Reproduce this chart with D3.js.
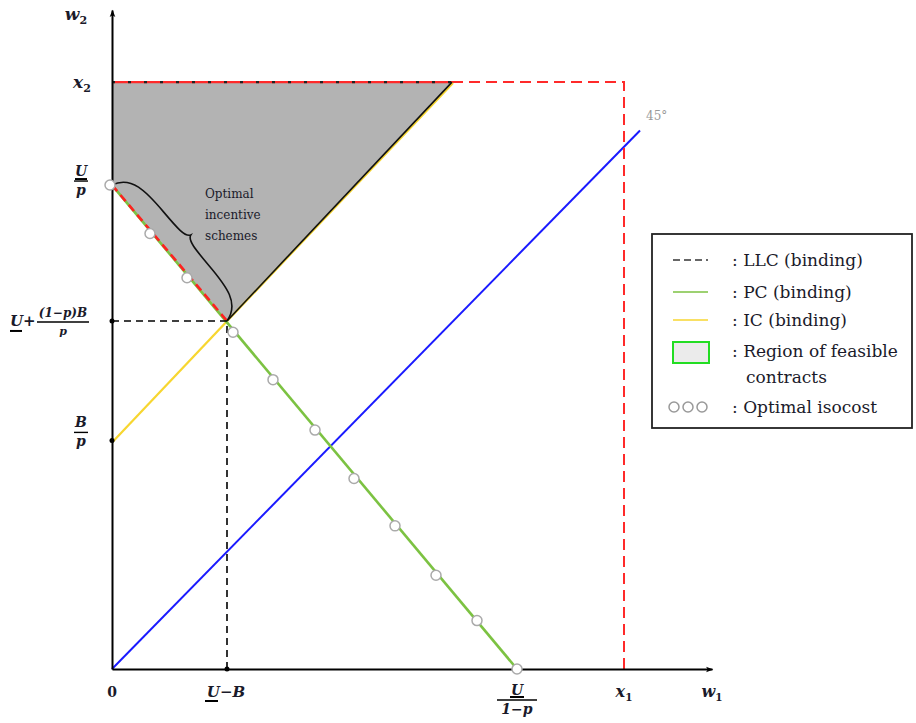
<!DOCTYPE html>
<html lang="en">
<head>
<meta charset="UTF-8">
<title>Optimal incentive schemes</title>
<script src="https://cdn.jsdelivr.net/npm/d3@7/dist/d3.min.js"></script>
<style>
  body { margin: 0; background: #fff; }
  svg { display: block; }
  .serif { font-family: "DejaVu Serif", "Liberation Serif", serif; }
</style>
</head>
<body>
<svg width="916" height="723"></svg>
<script>
// key values (arbitrary units)
const xTicks = [
  {key: "zero", v: 0},
  {key: "UB", v: 1.15},
  {key: "U1p", v: 4.05},
  {key: "x1", v: 5.12}
];
const yTicks = [
  {key: "Bp", v: 2.22},
  {key: "kink", v: 3.38},
  {key: "Up", v: 4.70},
  {key: "x2", v: 5.70}
];
// lines: [w1, w2] points
const pcLine = [[0, 4.70], [4.05, 0]];
const icLine = [[0, 2.22], [3.40, 5.70]];
const line45 = [[0, 0], [5.28, 5.23]];
const redBox = [[0, 5.70], [5.12, 5.70], [5.12, 0]];
const llcLine = [[0, 3.38], [1.15, 3.38], [1.15, 0]];
const region = [[0, 5.70], [3.40, 5.70], [1.15, 3.38], [0, 4.70]];
// optimal isocost circles
const isoX = [0, 0.38, 0.75, 1.21, 1.61, 2.03, 2.42, 2.83, 3.24, 3.65, 4.05];
const isoY = [4.70, 4.23, 3.80, 3.27, 2.81, 2.32, 1.85, 1.39, 0.91, 0.47, 0];
const dots = [[0, 3.38], [1.15, 0], [0, 2.22]];

const svg = d3.select("svg");
const x = d3.scaleLinear().domain([0, 6]).range([112, 712]);
const y = d3.scaleLinear().domain([0, 6.4]).range([669, 10]);
const line = d3.line().x(d => x(d[0])).y(d => y(d[1]));

const defs = svg.append("defs");
defs.append("marker")
  .attr("id", "arr").attr("viewBox", "0 0 10 10")
  .attr("refX", 8).attr("refY", 5)
  .attr("markerWidth", 8).attr("markerHeight", 8)
  .attr("markerUnits", "userSpaceOnUse")
  .attr("orient", "auto")
  .append("path").attr("d", "M0,1.5L9,5L0,8.5L2,5Z").attr("fill", "#000");

// feasible region
svg.append("path")
  .datum(region)
  .attr("d", d => line(d) + "Z")
  .attr("fill", "#b3b3b3");

// 45 degree line
svg.append("path").datum(line45).attr("d", line)
  .attr("stroke", "#1a1aff").attr("stroke-width", 2).attr("fill", "none");
svg.append("text").attr("class", "serif")
  .attr("x", x(5.28) + 6).attr("y", y(5.23) - 10)
  .attr("fill", "#999").attr("font-size", 12).text("45°");

// red box (x1, x2)
svg.append("path").datum(redBox).attr("d", line)
  .attr("stroke", "#ff2a2a").attr("stroke-width", 2).attr("fill", "none")
  .attr("stroke-dasharray", "11,6");
svg.append("path").datum([redBox[0], region[1]]).attr("d", line)
  .attr("stroke", "#ff2a2a").attr("stroke-width", 2.2);
svg.append("path").datum([redBox[0], region[1]]).attr("d", line)
  .attr("stroke", "#222").attr("stroke-width", 2.2).attr("stroke-dasharray", "3,13");

// IC binding
svg.append("path").datum(icLine).attr("d", line)
  .attr("stroke", "#f7d630").attr("stroke-width", 2.2).attr("fill", "none")
  .attr("transform", "translate(1,1)");
svg.append("path").datum([region[2], region[1]]).attr("d", line)
  .attr("stroke", "#111").attr("stroke-width", 1.6);

// PC binding
svg.append("path").datum(pcLine).attr("d", line)
  .attr("stroke", "#7cc242").attr("stroke-width", 2.6).attr("fill", "none");
svg.append("path").datum([region[3], region[2]]).attr("d", line)
  .attr("stroke", "#ff2020").attr("stroke-width", 2.6)
  .attr("stroke-dasharray", "8,5");

// LLC binding
svg.append("path").datum(llcLine).attr("d", line)
  .attr("stroke", "#000").attr("stroke-width", 1.6).attr("fill", "none")
  .attr("stroke-dasharray", "7,5");

// axes
const gx = svg.append("g").attr("transform", `translate(0,${y(0)})`)
  .call(d3.axisBottom(x).tickValues(xTicks.map(d => d.v)).tickSize(0).tickSizeOuter(0).tickFormat(""));
const gy = svg.append("g").attr("transform", `translate(${x(0)},0)`)
  .call(d3.axisLeft(y).tickValues(yTicks.map(d => d.v)).tickSize(0).tickSizeOuter(0).tickFormat(""));
[gx, gy].forEach(g => g.select(".domain")
  .attr("stroke", "#000").attr("stroke-width", 2).attr("marker-end", "url(#arr)"));

svg.append("g").selectAll("circle").data(dots).join("circle")
  .attr("cx", d => x(d[0])).attr("cy", d => y(d[1])).attr("r", 2.5).attr("fill", "#000");

// brace along the optimal schemes
(function brace() {
  const A = [x(region[3][0]), y(region[3][1])], B = [x(region[2][0]), y(region[2][1])];
  const dx = B[0] - A[0], dy = B[1] - A[1], L = Math.hypot(dx, dy);
  const ux = dx / L, uy = dy / L, nx = uy, ny = -ux;
  const w = 22, t = 6;
  const P = (u, v) => [A[0] + ux * u + nx * v, A[1] + uy * u + ny * v].join(",");
  const d = `M${P(0, 0)}C${P(0.03 * L, 0.95 * w)} ${P(0.15 * L, w)} ${P(0.3 * L, w)}` +
    `C${P(0.42 * L, w)} ${P(0.49 * L, w)} ${P(0.5 * L, w + t)}` +
    `C${P(0.51 * L, w)} ${P(0.58 * L, w)} ${P(0.7 * L, w)}` +
    `C${P(0.85 * L, w)} ${P(0.97 * L, 0.95 * w)} ${P(L, 0)}`;
  svg.append("path").attr("d", d).attr("fill", "none").attr("stroke", "#111").attr("stroke-width", 1.6);
})();

// optimal isocost circles
svg.append("g").selectAll("circle").data(isoX).join("circle")
  .attr("cx", (d, i) => x(d) - (i === 0 ? 2 : 0)).attr("cy", (d, i) => y(isoY[i]))
  .attr("r", 5).attr("fill", "#fff").attr("stroke", "#aaa").attr("stroke-width", 1.5);

// annotation
svg.append("text").attr("class", "serif").attr("font-size", 12).attr("fill", "#1a1a2a")
  .selectAll("tspan").data(["Optimal", "incentive", "schemes"]).join("tspan")
  .attr("x", 205).attr("y", (d, i) => 198 + i * 21).text(d => d);

// --- tick labels ---
const lab = svg.append("g").attr("class", "serif").attr("fill", "#1a1a2a").attr("font-weight", "bold");
function ital(g, tx, ty, main, sub, size) {
  const t = g.append("text").attr("x", tx).attr("y", ty).attr("font-size", size || 18)
    .attr("font-style", "italic").attr("text-anchor", "middle");
  t.append("tspan").text(main);
  if (sub) t.append("tspan").attr("font-size", (size || 18) * 0.65).attr("dy", 4).attr("font-style", "normal").text(sub);
}
function uline(g, x0, x1, yy, w) {
  g.append("line").attr("x1", x0).attr("x2", x1).attr("y1", yy).attr("y2", yy)
    .attr("stroke", "#000").attr("stroke-width", w || 1.3);
}
function frac(g, cx, cy, num, den, width, size) {
  g.append("text").attr("x", cx).attr("y", cy - 5).attr("text-anchor", "middle")
    .attr("font-size", size).attr("font-style", "italic").text(num);
  uline(g, cx - width / 2, cx + width / 2, cy, 1.4);
  g.append("text").attr("x", cx).attr("y", cy + 14).attr("text-anchor", "middle")
    .attr("font-size", size).attr("font-style", "italic").text(den);
}

ital(lab, 76, 20, "w", "2", 17);
const yT = Object.fromEntries(yTicks.map(d => [d.key, y(d.v)]));
const xT = Object.fromEntries(xTicks.map(d => [d.key, x(d.v)]));
ital(lab, 82, yT.x2 + 6, "x", "2", 17);
// U/p
frac(lab, 81, yT.Up - 4, "U", "p", 14, 14);
uline(lab, 75, 87, yT.Up - 6, 2);
// B/p
frac(lab, 81, yT.Bp - 8, "B", "p", 14, 14);
// U + (1-p)B/p
lab.append("text").attr("x", 10).attr("y", yT.kink + 5).attr("font-size", 15)
  .attr("font-style", "italic").text("U");
uline(lab, 10, 22, yT.kink + 10, 2);
lab.append("text").attr("x", 23).attr("y", yT.kink + 5).attr("font-size", 15).text("+");
lab.append("text").attr("x", 63).attr("y", yT.kink - 4).attr("text-anchor", "middle")
  .attr("font-size", 12).attr("font-style", "italic").text("(1−p)B");
uline(lab, 37, 89, yT.kink + 1, 1.4);
lab.append("text").attr("x", 63).attr("y", yT.kink + 14).attr("text-anchor", "middle")
  .attr("font-size", 11).attr("font-style", "italic").text("p");

// x labels
lab.append("text").attr("x", xT.zero).attr("y", 697).attr("text-anchor", "middle")
  .attr("font-size", 14).text("0");
lab.append("text").attr("x", xT.UB - 1).attr("y", 697).attr("text-anchor", "middle")
  .attr("font-size", 15).attr("font-style", "italic").text("U−B");
uline(lab, xT.UB - 22, xT.UB - 9, 701, 2);
frac(lab, xT.U1p, 700, "U", "1−p", 40, 14);
uline(lab, xT.U1p - 7, xT.U1p + 7, 697, 2);
ital(lab, xT.x1, 697, "x", "1", 16);
ital(lab, 712, 697, "w", "1", 16);

// --- legend ---
const lg = svg.append("g").attr("class", "serif").attr("transform", "translate(652,234)");
lg.append("rect").attr("width", 260).attr("height", 194)
  .attr("fill", "#fff").attr("stroke", "#222").attr("stroke-width", 1.8);
const rows = [
  {y: 26, text: ": LLC (binding)"},
  {y: 58, text: ": PC (binding)"},
  {y: 86, text: ": IC (binding)"},
  {y: 117, text: ": Region of feasible"},
  {y: 143, text: "contracts", indent: true},
  {y: 173, text: ": Optimal isocost"}
];
lg.selectAll("text.row").data(rows).join("text").attr("class", "row")
  .attr("x", d => d.indent ? 94 : 80).attr("y", d => d.y + 6)
  .attr("font-size", 17).attr("fill", "#1a1a2a").text(d => d.text);
lg.append("line").attr("x1", 21).attr("x2", 56).attr("y1", 26).attr("y2", 26)
  .attr("stroke", "#666").attr("stroke-width", 2).attr("stroke-dasharray", "7,4");
lg.append("line").attr("x1", 21).attr("x2", 56).attr("y1", 58).attr("y2", 58)
  .attr("stroke", "#7cc242").attr("stroke-width", 1.6);
lg.append("line").attr("x1", 21).attr("x2", 56).attr("y1", 86).attr("y2", 86)
  .attr("stroke", "#f7d630").attr("stroke-width", 1.6);
lg.append("rect").attr("x", 21).attr("y", 108).attr("width", 36).attr("height", 21)
  .attr("fill", "#ebebeb").attr("stroke", "#22dd22").attr("stroke-width", 2);
lg.selectAll("circle").data([0, 1, 2]).join("circle")
  .attr("cx", d => 22 + d * 14).attr("cy", 173).attr("r", 5)
  .attr("fill", "#fff").attr("stroke", "#999").attr("stroke-width", 1.5);
</script>
</body>
</html>
